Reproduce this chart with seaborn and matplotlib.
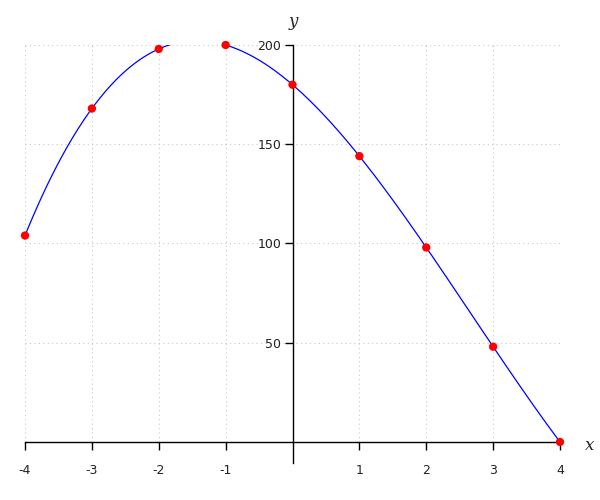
import numpy as np
import pandas as pd
import matplotlib
matplotlib.use('Agg')
import matplotlib.pyplot as plt
import seaborn as sns

# data points
x_vals = [-4, -3, -2, -1, 0, 1, 2, 3, 4]
y_vals = [104, 168, 198, 200, 180, 144, 98, 48, 0]
x_ticks = [-4, -3, -2, -1, 1, 2, 3, 4]
y_ticks = [50, 100, 150, 200]

df = pd.DataFrame({'x': x_vals, 'y': y_vals})

# smooth curve through the points (the points lie on a cubic)
coef = np.polyfit(df['x'], df['y'], 3)
xs = np.linspace(min(x_vals), max(x_vals), 400)
curve = pd.DataFrame({'x': xs, 'y': np.polyval(coef, xs)})

sns.set_style('white')
fig = plt.figure(figsize=(6, 5), dpi=100)
ax = fig.add_axes([25 / 600, 1 - 463 / 500, 535 / 600, 418 / 500])

ax.set_xlim(-4, 4)
ax.set_ylim(-10.6, 200)

# dotted grid, only in the upper region
ax.vlines(x_ticks, 0, 200, colors='#c8c8c8', linestyles=(0, (1, 3)), linewidth=0.8, zorder=0)
ax.hlines(y_ticks, -4, 4, colors='#c8c8c8', linestyles=(0, (1, 3)), linewidth=0.8, zorder=0)

sns.lineplot(data=curve, x='x', y='y', ax=ax, color='#0000ff', linewidth=0.9, zorder=2)
sns.scatterplot(data=df, x='x', y='y', ax=ax, color='#ff0000', s=36, edgecolor='none',
                zorder=3, clip_on=False)

for s in ['top', 'right']:
    ax.spines[s].set_visible(False)
ax.spines['left'].set_position(('data', 0))
ax.spines['bottom'].set_position(('data', 0))
for s in ['left', 'bottom']:
    ax.spines[s].set_color('black')
    ax.spines[s].set_linewidth(1.0)

ax.set_xticks(x_ticks)
ax.set_xticklabels([str(t) for t in x_ticks])
ax.set_yticks(y_ticks)
ax.set_yticklabels([str(t) for t in y_ticks])
ax.tick_params(axis='both', direction='out', length=6, width=1, color='black',
               labelsize=9, labelcolor='#222222', bottom=True, left=True)
ax.tick_params(axis='x', pad=10)
ax.tick_params(axis='y', pad=2)

ax.set_xlabel('')
ax.set_ylabel('')
fig.text(590 / 600, 1 - 445 / 500, 'x', family='DejaVu Serif', style='italic',
         fontsize=12, ha='center', va='center')
fig.text(293 / 600, 1 - 22 / 500, 'y', family='DejaVu Serif', style='italic',
         fontsize=12, ha='center', va='center')

fig.savefig('out.png', dpi=100)
